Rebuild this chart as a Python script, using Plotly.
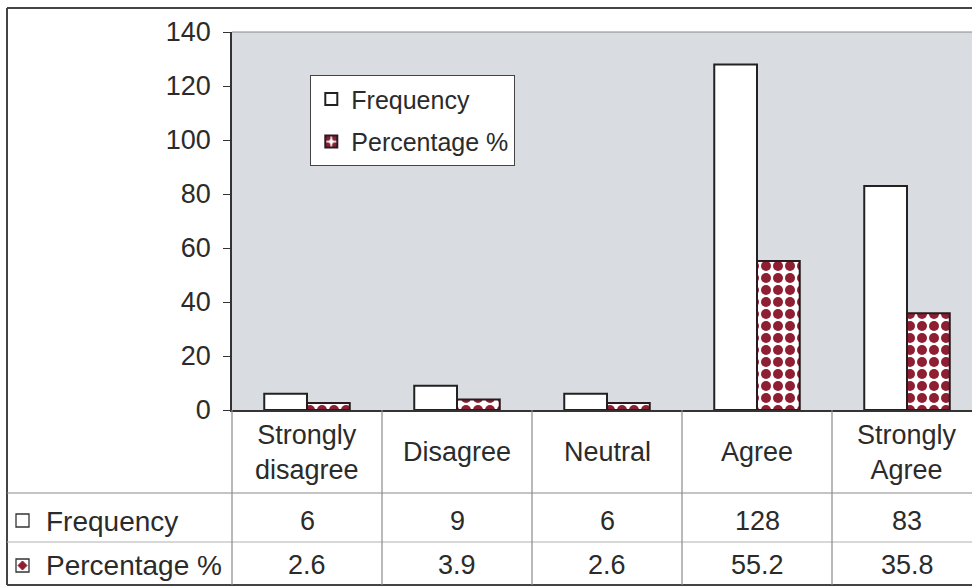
import plotly.graph_objects as go

categories = ["Strongly disagree", "Disagree", "Neutral", "Agree", "Strongly Agree"]
category_labels = ["Strongly<br>disagree", "Disagree", "Neutral", "Agree", "Strongly<br>Agree"]
frequency = [6, 9, 6, 128, 83]
percentage = [2.6, 3.9, 2.6, 55.2, 35.8]
freq_text = ["6", "9", "6", "128", "83"]
pct_text = ["2.6", "3.9", "2.6", "55.2", "35.8"]
y_ticks = [0, 20, 40, 60, 80, 100, 120, 140]

W, H = 972, 587
L, T, B = 232, 32, 410  # plot area px
PW, PH = W - L, B - T
CAT_W = 150.0
x_max = -0.5 + PW / CAT_W

def px(xp):
    return (xp - L) / PW

def py(yp):
    return (B - yp) / PH

FONT = "Liberation Sans, Arial, sans-serif"
TXT = "#2b2b2b"
RED = "#8e1f33"

xs = list(range(len(categories)))

fig = go.Figure()
fig.add_trace(go.Bar(
    x=xs, y=frequency, name="Frequency", legendgroup="f",
    marker=dict(color="white", line=dict(color="#222222", width=2)),
))
fig.add_trace(go.Bar(
    x=xs, y=percentage, name="Percentage %", legendgroup="p",
    marker=dict(color="white", line=dict(color="#2a1a1e", width=2),
                pattern=dict(shape=".", fgcolor=RED, bgcolor="white", fgopacity=1,
                             size=12, solidity=0.55, fillmode="overlay")),
))

shapes = []
line_dark = dict(color="#444444", width=2)
line_grey = dict(color="#8a8a8a", width=1.2)
# outer frame
shapes.append(dict(type="line", xref="paper", yref="paper", x0=px(7), x1=px(W + 5), y0=py(8), y1=py(8), line=line_dark))
shapes.append(dict(type="line", xref="paper", yref="paper", x0=px(7), x1=px(7), y0=py(8), y1=py(585), line=line_dark))
shapes.append(dict(type="line", xref="paper", yref="paper", x0=px(7), x1=px(W + 5), y0=py(585), y1=py(585), line=line_dark))
# plot area top edge
shapes.append(dict(type="line", xref="paper", yref="paper", x0=0, x1=1, y0=1, y1=1, line=dict(color="#888888", width=1)))
# table horizontal lines
shapes.append(dict(type="line", xref="paper", yref="paper", x0=px(7), x1=px(W + 5), y0=py(493), y1=py(493), line=line_grey))
shapes.append(dict(type="line", xref="paper", yref="paper", x0=px(7), x1=px(W + 5), y0=py(542), y1=py(542), line=dict(color="#b0b0b0", width=1)))
# table vertical lines
shapes.append(dict(type="line", xref="paper", yref="paper", x0=0, x1=0, y0=py(410), y1=py(585), line=line_grey))
for i in range(len(categories) - 1):
    shapes.append(dict(type="line", xref="x", yref="paper", x0=i + 0.5, x1=i + 0.5,
                       y0=py(410), y1=py(585), line=line_grey))
# legend keys in table
shapes.append(dict(type="rect", xref="paper", yref="paper", x0=px(16), x1=px(29), y0=py(514), y1=py(527),
                   line=dict(color="#333333", width=1.3), fillcolor="white"))
shapes.append(dict(type="rect", xref="paper", yref="paper", x0=px(16), x1=px(29), y0=py(559), y1=py(572),
                   line=dict(color="#333333", width=1.3), fillcolor="white"))
cx, cy = px(22.5), py(565.5)
dx, dy = 4.5 / PW, 4.5 / PH
shapes.append(dict(type="path", xref="paper", yref="paper",
                   path=f"M {cx},{cy+dy} L {cx+dx},{cy} L {cx},{cy-dy} L {cx-dx},{cy} Z",
                   line=dict(color=RED, width=1), fillcolor=RED))

annotations = []
for i, lab in enumerate(category_labels):
    annotations.append(dict(x=i, y=py(452), xref="x", yref="paper", text=lab, showarrow=False,
                            font=dict(family=FONT, size=27, color=TXT), xanchor="center", yanchor="middle"))
    annotations.append(dict(x=i, y=py(521), xref="x", yref="paper", text=freq_text[i], showarrow=False,
                            font=dict(family=FONT, size=27, color=TXT), xanchor="center", yanchor="middle"))
    annotations.append(dict(x=i, y=py(565), xref="x", yref="paper", text=pct_text[i], showarrow=False,
                            font=dict(family=FONT, size=27, color=TXT), xanchor="center", yanchor="middle"))
annotations.append(dict(x=px(44), y=py(521), xref="paper", yref="paper", text="Frequency",
                        showarrow=False, font=dict(family=FONT, size=28, color=TXT), xanchor="left", yanchor="middle"))
annotations.append(dict(x=px(44), y=py(565), xref="paper", yref="paper", text="Percentage %",
                        showarrow=False, font=dict(family=FONT, size=28, color=TXT), xanchor="left", yanchor="middle"))

fig.update_layout(
    width=W, height=H,
    margin=dict(l=L, r=0, t=T, b=H - B, pad=0),
    paper_bgcolor="white",
    plot_bgcolor="#d9dce0",
    barmode="group", bargap=0.43, bargroupgap=0,
    showlegend=True,
    legend=dict(x=px(310), y=py(75), xanchor="left", yanchor="top",
                bgcolor="white", bordercolor="#444444", borderwidth=1.3,
                font=dict(family=FONT, size=25, color=TXT),
                tracegroupgap=7, itemsizing="constant"),
    xaxis=dict(range=[-0.5, x_max], showticklabels=False, ticks="", showgrid=False,
               showline=True, linecolor="#333333", linewidth=2, zeroline=False, fixedrange=True),
    yaxis=dict(range=[0, 140], tickvals=y_ticks, ticks="outside", ticklen=7, tickwidth=1.3,
               tickcolor="#333333", showgrid=False, showline=True, linecolor="#333333", linewidth=1.5,
               zeroline=False, tickfont=dict(family=FONT, size=27, color=TXT), ticklabelstandoff=7),
    shapes=shapes,
    annotations=annotations,
)

fig.write_html("out.html")
